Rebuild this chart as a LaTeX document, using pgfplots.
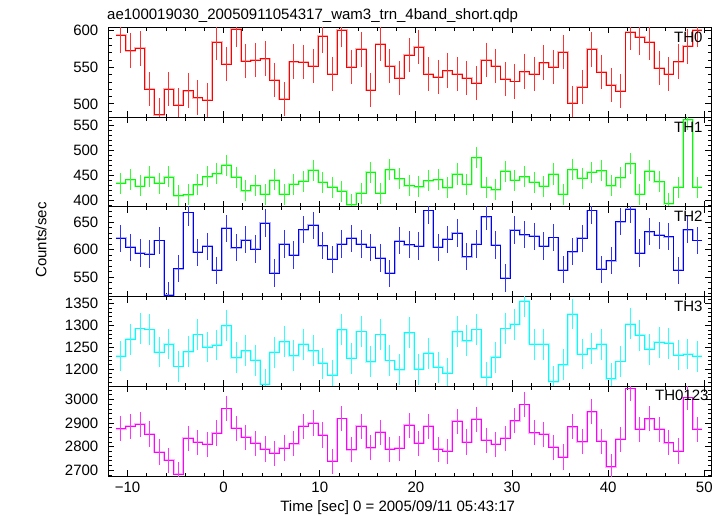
\documentclass[border=0pt]{standalone}
\usepackage{fontspec}
\setmainfont{Liberation Sans}
\usepackage{pgfplots}
\usepackage{pgfplotstable}
\pgfplotsset{compat=1.18}
\definecolor{qred}{RGB}{255,0,0}
\definecolor{qgreen}{RGB}{0,255,0}
\definecolor{qblue}{RGB}{0,0,255}
\definecolor{qcyan}{RGB}{0,255,255}
\definecolor{qmagenta}{RGB}{255,0,255}

\pgfplotstableread{
t c0 c1 c2 c3 c4
-11.2 593.6 434.8 620.6 1230.3 2876
-10.2 572.7 442 604 1268.2 2886
-9.2 575.9 429.5 593.6 1293.2 2894.4
-8.2 520 447.4 591.7 1290.9 2853.6
-7.2 485 434.8 616.3 1239.4 2777.5
-6.2 520 447.4 517 1257.6 2742.3
-5.2 498 410.3 565.3 1206.1 2683.2
-4.2 518 412.3 667.2 1240.2 2835.3
-3.2 508.6 432 594.8 1279.5 2818.4
-2.2 505 448 605.8 1250.8 2810
-1.2 584 454 562.3 1255.3 2857.8
-0.2 554.5 470.5 638.3 1300 2962
0.8 601.8 446.7 603.4 1226.5 2877.5
1.8 558.6 420.2 617.5 1242.4 2839.5
2.8 560 430.1 601 1220.5 2814.1
3.8 561.8 413 648.2 1165.9 2790.2
4.8 532.7 441.4 557.4 1238.6 2771.9
5.8 506.4 413 610.1 1262.9 2794.4
6.8 557.7 432.8 589.9 1231.1 2812.7
7.8 556.8 438.7 635.9 1256.8 2886
8.8 551.8 460.6 643.9 1242.4 2900
9.8 592.7 436.8 607 1213.6 2849.3
10.8 540.9 426.8 582.5 1185.6 2738
11.8 600.9 418.9 610.1 1290.2 2919.7
12.8 550 392.4 620.6 1225 2787.4
13.8 574.5 415 610.1 1286.4 2886
14.8 519 456.6 604 1216.7 2795.8
15.8 581.8 415 584.4 1279.5 2860.6
16.8 551.8 462 556.7 1219.7 2788.8
17.8 535 444 615.6 1198.5 2793
18.8 566.4 430 608.9 1283.3 2890.2
19.8 577.3 428 606.4 1200 2814.1
20.8 540.9 440 670.9 1236.4 2886
21.8 536.8 442 604 1204.5 2788.8
22.8 545.5 426 618.7 1190.9 2780.3
23.8 540.9 453.3 629.8 1285.6 2907.1
24.8 535 432.8 586.8 1265.2 2819.8
25.8 528.6 485.8 610.1 1290.9 2915.5
26.8 560 426.8 659.8 1181.1 2826.8
27.8 551.8 422.2 608.3 1227.3 2810
28.8 534.1 458.6 548.2 1293.2 2835.3
29.8 530.5 440.7 635.3 1303 2909.9
30.8 544 448 626.7 1356 2978.9
31.8 540.9 436.8 624.2 1256.8 2859.2
32.8 556.4 428.8 606.4 1256.8 2852.2
33.8 550 453.3 621.8 1171.2 2797.2
34.8 570.9 413 562.9 1209.8 2756.4
35.8 500.9 462 596 1326.5 2884.5
36.8 522.7 444.7 620.6 1234.8 2821.2
37.8 574.5 456.6 670.9 1247 2947.9
38.8 543.6 459.9 564.1 1256.8 2822.6
39.8 525.5 430 579.4 1178 2715.6
40.8 517.3 446 650.6 1217.4 2831
41.8 597.7 473.8 673.3 1303.8 3046.5
42.8 590.9 413 593.6 1278 2873.3
43.8 584 459.3 632.2 1245.5 2918.3
44.8 549 438 626.1 1261.4 2873.3
45.8 540.9 394.4 623 1259.1 2817
46.8 557.7 426.8 562.3 1232.6 2781.8
47.8 578.6 561 635.9 1234.8 3008.4
48.8 600.9 426.8 616.3 1229.5 2873.3
49.8 600.9 426.8 616.3 1229.5 2873.3
}\data

\pgfplotsset{
  panel/.style={
    scale only axis, width=602.7bp, height=89.74bp,
    anchor=north west,
    xmin=-12, xmax=50.7,
    xtick={-10,0,...,50}, minor xtick={-12,-10,...,50},
    xticklabels={},
    font=\fontsize{15bp}{18bp}\selectfont,
    /pgf/number format/assume math mode=true,
    /pgf/number format/1000 sep={},
    scaled ticks=false,
    major tick length=6bp, minor tick length=3.5bp,
    every tick/.style={black, line width=0.8bp},
    axis line style={line width=1bp},
    yticklabel style={xshift=-6.5bp},
    xticklabel style={yshift=-2.5bp},
  },
  halo/.style={const plot mark left, draw=#1!30, line width=1.9bp, forget plot},
  core/.style={const plot mark left, draw=#1, line width=0.7bp, forget plot},
}
\newcommand{\series}[3]{%
  \addplot[halo=#2] table[x=t,y=#1]{\data};
  \addplot[core=#2] table[x=t,y=#1]{\data};
  \addplot[draw=none, mark=none, forget plot, skip coords between index={61}{62},
    error bars/.cd, y dir=both, y fixed=#3, error mark=none,
    error bar style={draw=#2!80, line width=0.9bp}]
    table[x expr=\thisrow{t}+0.5, y=#1]{\data};
}

\begin{document}
\begin{tikzpicture}[font=\fontsize{15bp}{18bp}\selectfont]
\useasboundingbox (-108.3bp,27.3bp) rectangle (616.7bp,-488.7bp);

\begin{axis}[panel, at={(0bp,0bp)}, ymin=482, ymax=604.6,
  ytick={500,550,600}, minor ytick={490,500,...,600}]
\series{c0}{qred}{23.5}
\node[anchor=north west, inner sep=0pt] at (rel axis cs:0.9386,0.955) {TH0};
\end{axis}

\begin{axis}[panel, at={(0bp,-89.74bp)}, ymin=388, ymax=566.5,
  ytick={400,450,500,550}, minor ytick={390,400,...,560}]
\series{c1}{qgreen}{21}
\node[anchor=north west, inner sep=0pt] at (rel axis cs:0.9386,0.945) {TH1};
\end{axis}

\begin{axis}[panel, at={(0bp,-179.48bp)}, ymin=514.5, ymax=677.6,
  ytick={550,600,650}, minor ytick={520,530,...,670}]
\series{c2}{qblue}{24.7}
\node[anchor=north west, inner sep=0pt] at (rel axis cs:0.9386,0.955) {TH2};
\end{axis}

\begin{axis}[panel, at={(0bp,-269.22bp)}, ymin=1160.6, ymax=1366.7,
  ytick={1200,1250,1300,1350}, minor ytick={1170,1180,...,1360}]
\series{c3}{qcyan}{35.4}
\node[anchor=north west, inner sep=0pt] at (rel axis cs:0.9386,0.955) {TH3};
\end{axis}

\begin{axis}[panel, at={(0bp,-358.96bp)}, ymin=2676, ymax=3056,
  ytick={2700,2800,2900,3000}, minor ytick={2680,2700,...,3040},
  xticklabels={−10,0,10,20,30,40,50}]
\series{c4}{qmagenta}{53.5}
\node[anchor=north west, inner sep=0pt] at (rel axis cs:0.9071,0.955) {TH0123};
\end{axis}

\node[anchor=base west, inner sep=0pt] at (-1.3bp,8.3bp) {ae100019030\_20050911054317\_wam3\_trn\_4band\_short.qdp};
\node[anchor=base, inner sep=0pt] at (289.4bp,-484.4bp) {Time [sec] 0 = 2005/09/11 05:43:17};
\node[rotate=90, inner sep=0pt] at (-67.3bp,-212.7bp) {Counts/sec};
\end{tikzpicture}
\end{document}
